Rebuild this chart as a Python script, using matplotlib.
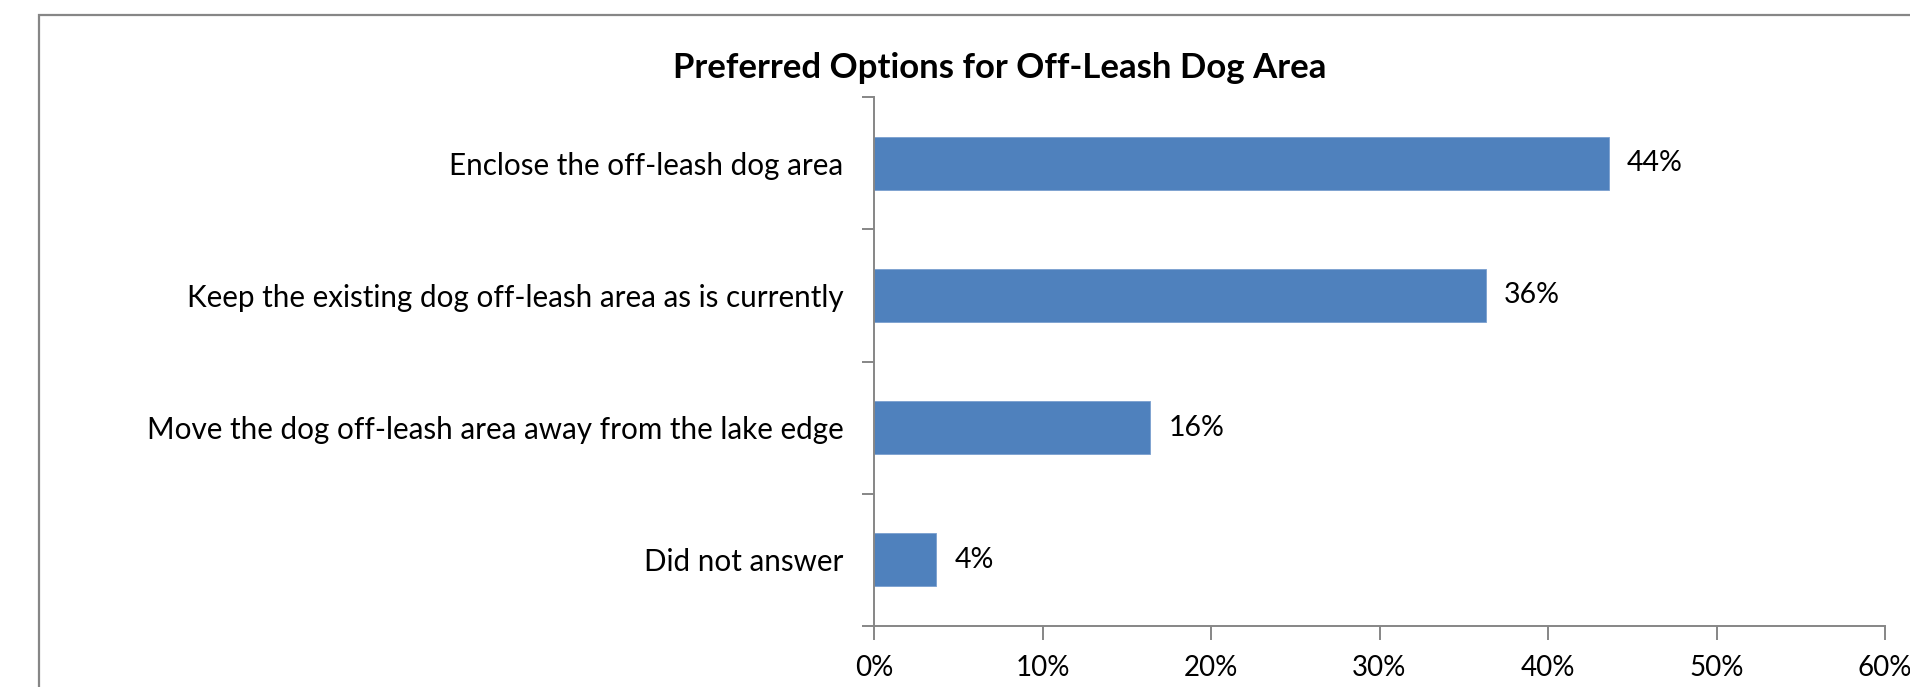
import matplotlib
matplotlib.use("Agg")
import matplotlib.pyplot as plt
from matplotlib.patches import Rectangle

categories = [
    "Enclose the off-leash dog area",
    "Keep the existing dog off-leash area as is currently",
    "Move the dog off-leash area away from the lake edge",
    "Did not answer",
]
values = [43.6, 36.3, 16.4, 3.7]
value_labels = ["44%", "36%", "16%", "4%"]
x_ticks = [0, 10, 20, 30, 40, 50, 60]
x_tick_labels = ["0%", "10%", "20%", "30%", "40%", "50%", "60%"]
title = "Preferred Options for Off-Leash Dog Area"

plt.rcParams['font.family'] = ['Lato', 'DejaVu Sans']
W, H = 1910, 687
fig = plt.figure(figsize=(W / 100, H / 100), dpi=100)
fig.patch.set_facecolor("white")

# chart border (extends past right/bottom edges)
fig.patches.append(Rectangle((39 / W, -0.1), 1.2, 1 - 15 / H + 0.1,
                             transform=fig.transFigure, fill=False,
                             edgecolor="#868686", linewidth=1.6))

left, right = 874 / W, 1885 / W
bottom, top = 1 - 626 / H, 1 - 97 / H
ax = fig.add_axes([left, bottom, right - left, top - bottom])

gray = "#868686"
pos = list(range(len(categories)))
ax.barh(pos, values, height=0.4, color="#4F81BD", edgecolor="#7A9FCF", linewidth=0.6)
for p, v, lab in zip(pos, values, value_labels):
    ax.text(v + 1.1, p, lab, va="center", ha="left", fontsize=20.5, color="black")

ax.set_xlim(0, 60)
ax.set_ylim(len(categories) - 0.5, -0.5)
ax.set_xticks(x_ticks)
ax.set_xticklabels(x_tick_labels, fontsize=20)
ax.set_yticks(pos)
ax.set_yticklabels(categories, fontsize=21.3)
ax.tick_params(axis="y", which="major", length=0, pad=22)
ax.set_yticks([p - 0.5 for p in pos] + [len(categories) - 0.5], minor=True)
ax.tick_params(axis="y", which="minor", length=9, width=1.4, color=gray, direction="out")
ax.tick_params(axis="x", which="major", length=10, width=1.4, color=gray, direction="out", pad=11)

for s in ["top", "right"]:
    ax.spines[s].set_visible(False)
for s in ["left", "bottom"]:
    ax.spines[s].set_color(gray)
    ax.spines[s].set_linewidth(1.4)

fig.text(1000 / W, 1 - 68 / H, title, ha="center", va="center",
         fontsize=25, fontweight="bold", color="black")

fig.savefig("out.png", dpi=100)
